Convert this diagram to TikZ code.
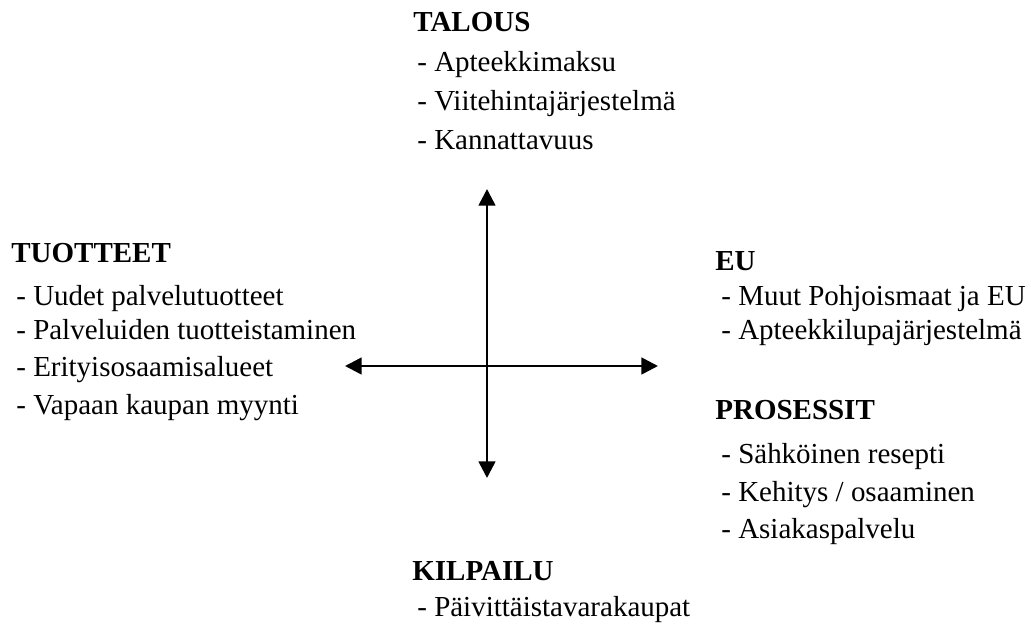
\documentclass[tikz,border=0pt]{standalone}
\usepackage{fontspec}
\setmainfont{Liberation Serif}
\usetikzlibrary{arrows.meta}

\begin{document}
\begin{tikzpicture}[x=0.02cm,y=-0.02cm,>={Triangle[length=9.5pt,width=9.5pt]},
 font=\fontsize{16.5}{20}\selectfont,
 head/.style={anchor=base west,inner sep=0pt,font=\fontsize{16.5}{20}\selectfont\bfseries},
 item/.style={anchor=base west,inner sep=0pt},
 axis/.style={<->,line width=1.5pt}]
\useasboundingbox (0,0) rectangle (1031,628);
% axes
\coordinate (up) at (487,189);
\coordinate (down) at (487,478);
\coordinate (left) at (345,366);
\coordinate (right) at (658,366);
\draw[axis] (down)--(up);
\draw[axis] (left)--(right);
% top
\node[head] (talous) at (413,32) {TALOUS};
\node[item] (t1) at (417,72) {- Apteekkimaksu};
\node[item] (t2) at (417,111) {- Viitehintajärjestelmä};
\node[item] (t3) at (417,150) {- Kannattavuus};
% left
\node[head] (tuotteet) at (11,262) {TUOTTEET};
\node[item] (p1) at (16,305) {- Uudet palvelutuotteet};
\node[item] (p2) at (16,339) {- Palveluiden tuotteistaminen};
\node[item] (p3) at (16,376) {- Erityisosaamisalueet};
\node[item] (p4) at (16,414) {- Vapaan kaupan myynti};
% right
\node[head] (eu) at (715,271) {EU};
\node[item] (e1) at (721,305) {- Muut Pohjoismaat ja EU};
\node[item] (e2) at (721,339) {- Apteekkilupajärjestelmä};
\node[head] (prosessit) at (715,419) {PROSESSIT};
\node[item] (s1) at (721,463) {- Sähköinen resepti};
\node[item] (s2) at (721,501) {- Kehitys / osaaminen};
\node[item] (s3) at (721,538) {- Asiakaspalvelu};
% bottom
\node[head] (kilpailu) at (412,580) {KILPAILU};
\node[item] (k1) at (417,616) {- Päivittäistavarakaupat};
\end{tikzpicture}
\end{document}
